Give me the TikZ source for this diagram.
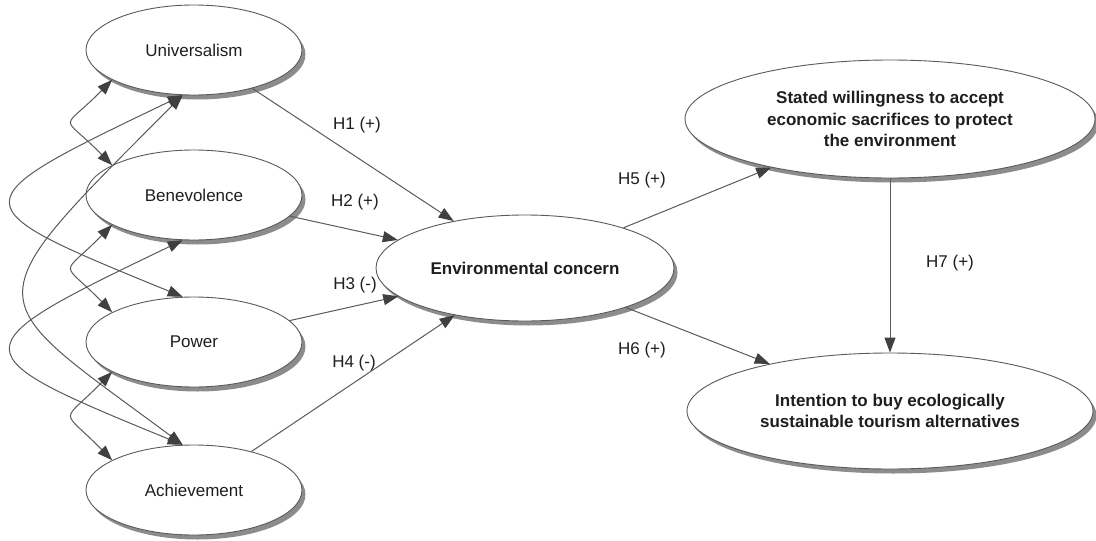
\documentclass[tikz,border=0pt]{standalone}
\usepackage{fontspec}
\setmainfont{Liberation Sans}
\usetikzlibrary{arrows.meta,shapes.geometric,shadows}
\definecolor{edgec}{HTML}{5A5A5A}
\definecolor{headc}{HTML}{404040}
\definecolor{shad}{HTML}{8C8C8C}
\definecolor{txt}{HTML}{1E1E1E}
\begin{document}
\begin{tikzpicture}[x=1pt,y=-1pt,
  construct/.style={ellipse, draw=edgec, line width=0.9pt, fill=white, inner sep=0pt,
    text=txt, align=center, font=\fontsize{17}{21.5}\selectfont,
    drop shadow={shadow xshift=3.5pt,shadow yshift=-4.5pt,fill=shad,opacity=1}},
  smallc/.style={construct, minimum width=216pt, minimum height=90pt},
  boldc/.style={construct, font=\bfseries\fontsize{17}{21.5}\selectfont},
  hyp/.style={draw=edgec, line width=1pt, -{Triangle[length=15pt,width=11pt,color=headc]}},
  cov/.style={draw=edgec, line width=1pt, {Triangle[length=15pt,width=11pt,color=headc]}-{Triangle[length=15pt,width=11pt,color=headc]}},
  lab/.style={font=\fontsize{17}{20}\selectfont, text=txt, inner sep=0pt}
]
\useasboundingbox (0,0) rectangle (1096,541);
\fill[white] (0,0) rectangle (1096,541);

% constructs
\node[smallc] (U) at (194,50) {Universalism};
\node[smallc] (B) at (194,195) {Benevolence};
\node[smallc] (P) at (194,342) {Power};
\node[smallc] (A) at (194,490) {Achievement};
\node[boldc, minimum width=298pt, minimum height=106pt] (E) at (525,268) {Environmental concern};
\node[boldc, minimum width=410pt, minimum height=118pt] (S) at (890,119) {Stated willingness to accept\\economic sacrifices to protect\\the environment};
\node[boldc, minimum width=406pt, minimum height=116pt] (I) at (890,411) {Intention to buy ecologically\\sustainable tourism alternatives};

% hypotheses
\draw[hyp] (U) -- (E);
\draw[hyp] (B) -- (E);
\draw[hyp] (P) -- (E);
\draw[hyp] (A) -- (E);
\draw[hyp] (E) -- (S);
\draw[hyp] (E) -- (I);
\draw[hyp] (S) -- (I);

% covariances
\draw[cov] (U.200) .. controls (60,133) and (60,112) .. (B.160);
\draw[cov] (B.200) .. controls (60,278) and (60,259) .. (P.160);
\draw[cov] (P.200) .. controls (60,425) and (60,407) .. (A.160);
\draw[cov] (U.256) .. controls (-44,204) and (-44,204) .. (P.104);
\draw[cov] (U.256) .. controls (-32,310) and (-22,293) .. (A.104);
\draw[cov] (B.256) .. controls (-44,349) and (-44,352) .. (A.104);

% labels
\node[lab] (h1) at (357,125) {H1 (+)};
\node[lab] (h2) at (355,202) {H2 (+)};
\node[lab] (h3) at (355,285) {H3 (-)};
\node[lab] (h4) at (354,363) {H4 (-)};
\node[lab] (h5) at (642,180) {H5 (+)};
\node[lab] (h6) at (642,350) {H6 (+)};
\node[lab] (h7) at (950,263) {H7 (+)};
\end{tikzpicture}
\end{document}
